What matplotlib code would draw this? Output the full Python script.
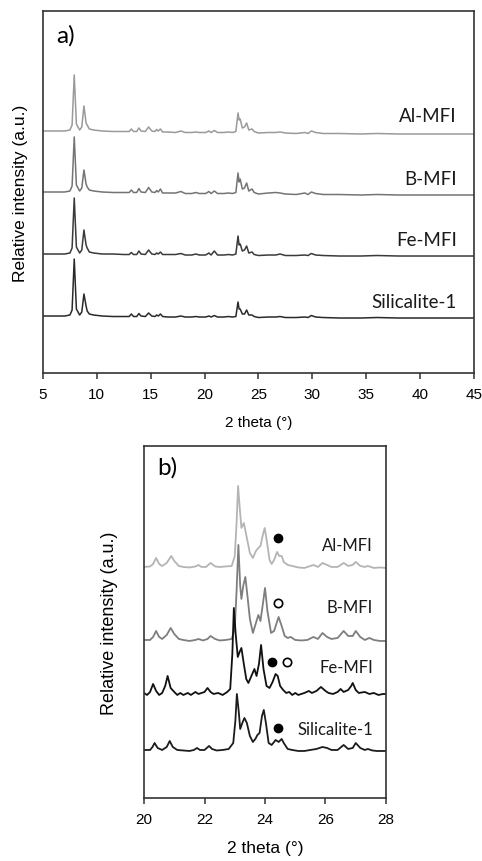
import matplotlib
matplotlib.use('Agg')
import matplotlib.pyplot as plt

# ---- panel a) : full range 5-45 deg (heights above each baseline) ----
x_full = [5.0, 6.0, 7.0, 7.5, 7.7, 7.9, 8.1, 8.4, 8.6, 8.8, 9.0, 9.1, 9.3, 9.7, 10.5,
          11.5, 12.5, 13.0, 13.2, 13.4, 13.7, 13.9, 14.1, 14.5, 14.8, 15.1, 15.4, 15.55,
          15.7, 15.9, 16.1, 16.6, 17.3, 17.8, 18.2, 18.8, 19.2, 19.5, 20.1, 20.4, 20.6,
          20.9, 21.2, 21.8, 22.2, 22.6, 22.9, 23.1, 23.2, 23.3, 23.5, 23.7, 23.9, 24.1,
          24.4, 24.6, 25.0, 25.9, 26.6, 27.0, 27.5, 28.5, 29.3, 29.6, 29.9, 30.3, 31.0,
          32.5, 34.5, 36.0, 38.0, 40.0, 42.0, 45.0]
al_full = [3, 3, 3, 4, 9, 59, 10, 4, 7, 28, 11, 9, 5, 4, 3,
           2.5, 2.5, 2.5, 5, 2.5, 2.5, 6, 3, 2.5, 7, 3, 2.5, 4.5,
           3, 5, 2, 2, 1.5, 3, 1.5, 1.5, 2, 1.5, 1.5, 3, 1.5,
           3.5, 1.5, 1.5, 2, 1.5, 2.5, 21, 14, 15, 6, 7, 11, 4,
           5, 2.5, 1, 1.5, 1.5, 2, 1, 0.5, 1.5, 0.5, 3, 1.5, 0.5,
           0.5, 0, 0.5, 0, 0, 0, 0]
b_full = [3, 3, 3, 4, 9, 58, 10, 4, 7, 25, 11, 8, 5, 4, 3,
          2.5, 2.5, 2.5, 5, 2.5, 2.5, 6.5, 3, 2.5, 7.5, 3, 2.5, 4.5,
          3, 6, 2, 2, 2, 3.5, 1.5, 1.5, 2.5, 1.5, 1.5, 3.5, 1.5,
          4, 1.5, 1.5, 2, 1.5, 2.5, 22, 13, 16, 6, 7, 12, 4,
          6, 2.5, 1, 2, 2.5, 2, 1, 0.5, 2, 0.5, 3, 1.5, 0.5,
          0.5, 0, 0.5, 0, 0, 0, 0]
fe_full = [2, 2, 2, 3, 8, 58, 9, 3, 6, 26, 11, 8, 4, 3, 2,
           2, 1.5, 1.5, 3.5, 1.5, 1.5, 5, 2, 1.5, 6, 2, 1.5, 3,
           2, 4, 1.5, 1.5, 1.5, 2.5, 1, 1, 2, 1, 1, 3, 1,
           5, 1, 1, 1.5, 1, 2, 20, 11, 12, 5, 6, 10, 3,
           4, 1.5, 0.5, 1, 1, 2, 0.5, 0.5, 1, 0.5, 2.5, 1, 0.5,
           0, 0, 0.5, 0, 0, 0, 0]
si_full = [2, 2, 2, 3, 8, 59, 9, 3, 6, 24, 12, 7, 4, 3, 2,
           1.5, 1.5, 1.5, 4, 1.5, 1.5, 4.5, 2, 1.5, 5, 2, 1.5, 3,
           2, 4, 1.5, 1, 1, 2, 1, 1, 1.5, 1, 1, 2, 1,
           2.5, 1, 1, 1.5, 1, 1.5, 16, 9, 9, 4, 4, 8, 3,
           3, 1.5, 0.5, 1, 1, 1.5, 0.5, 0.5, 1, 0.5, 2.5, 1, 0.5,
           0, 0, 0.5, 0, 0, 0, 0]

# ---- panel b) : zoom 20-28 deg ----
x_al = [20.0, 20.2, 20.3, 20.4, 20.5, 20.6, 20.75, 20.9, 21.0, 21.15, 21.3, 21.5, 21.7,
        21.8, 21.9, 22.05, 22.2, 22.35, 22.5, 22.7, 22.9, 23.0, 23.06, 23.11, 23.17, 23.22,
        23.3, 23.4, 23.5, 23.6, 23.7, 23.78, 23.85, 23.92, 23.99, 24.07, 24.15, 24.22, 24.3,
        24.4, 24.47, 24.55, 24.62, 24.75, 24.9, 25.1, 25.3, 25.5, 25.6, 25.75, 25.9, 26.05,
        26.2, 26.4, 26.6, 26.75, 26.9, 27.0, 27.15, 27.3, 27.4, 27.6, 27.8, 28.0]
y_al = [1, 1.5, 4, 10, 4, 2, 5, 12, 7, 2, 1, 0.5, 1.5,
        3, 1, 1, 5, 1.5, 1, 1.5, 2, 12, 45, 82, 58, 40,
        45, 30, 15, 10, 17, 20, 22, 32, 40, 25, 8, 4, 8,
        16, 12, 12, 6, 3, 2, 0.5, 0, 2, 3, 1, 5, 3,
        1, 1, 5, 2, 3, 6, 2, 1, 2, 0, 0.5, 0]
x_b = [20.0, 20.2, 20.3, 20.4, 20.5, 20.6, 20.75, 20.88, 21.0, 21.15, 21.3, 21.5, 21.7,
       21.8, 21.95, 22.1, 22.2, 22.35, 22.5, 22.7, 22.9, 23.0, 23.06, 23.12, 23.18, 23.22,
       23.28, 23.35, 23.42, 23.5, 23.6, 23.7, 23.78, 23.85, 23.92, 24.0, 24.08, 24.2, 24.3,
       24.45, 24.55, 24.65, 24.75, 24.85, 25.0, 25.2, 25.4, 25.6, 25.75, 25.9, 26.05, 26.2,
       26.4, 26.6, 26.75, 26.9, 27.0, 27.15, 27.3, 27.45, 27.6, 27.8, 28.0]
y_b = [1, 1, 4, 10, 4, 2, 6, 13, 7, 2, 1, 0, 1,
       2, 0.5, 2, 5, 2, 0.5, 1, 2, 12, 50, 96, 55, 42,
       55, 64, 45, 22, 8, 18, 26, 20, 35, 53, 30, 8, 10,
       24, 15, 5, 3, 4, 1, 0.5, 1, 4, 2, 8, 4, 2,
       3, 10, 5, 5, 10, 4, 1, 3, 1, 0, 0]
x_fe = [20.0, 20.1, 20.2, 20.3, 20.4, 20.5, 20.6, 20.7, 20.78, 20.88, 21.0, 21.1, 21.2,
        21.3, 21.45, 21.55, 21.7, 21.8, 21.9, 22.0, 22.1, 22.2, 22.3, 22.45, 22.6, 22.75,
        22.85, 22.92, 22.97, 23.03, 23.1, 23.16, 23.22, 23.3, 23.38, 23.45, 23.55, 23.65,
        23.72, 23.8, 23.87, 23.95, 24.05, 24.15, 24.25, 24.35, 24.42, 24.5, 24.6, 24.7,
        24.8, 24.9, 25.0, 25.1, 25.3, 25.45, 25.55, 25.7, 25.85, 26.0, 26.1, 26.25, 26.4,
        26.5, 26.6, 26.75, 26.85, 26.9, 27.0, 27.1, 27.3, 27.45, 27.6, 27.75, 27.9, 28.0]
y_fe = [1, -1, 2, 10, 3, -1, 1, 8, 18, 6, 2, -1, 1,
        -1, 1, -1, 2, 0, 1, 2, 6, 2, 0, 1, -1, 2,
        5, 40, 86, 60, 37, 42, 46, 30, 15, 11, 18, 25,
        18, 30, 49, 25, 8, 6, 12, 20, 18, 8, 4, 1,
        2, -1, 1, -1, 1, 3, 1, 3, 7, 3, 1, 0, 2,
        5, 2, 4, 8, 11, 4, 1, 2, 0, 1, -1, 0, 0]
x_si = [20.0, 20.2, 20.28, 20.35, 20.45, 20.6, 20.75, 20.85, 20.95, 21.1, 21.3, 21.5,
        21.65, 21.75, 21.85, 22.0, 22.15, 22.25, 22.4, 22.6, 22.8, 22.95, 23.02, 23.07,
        23.13, 23.18, 23.25, 23.32, 23.4, 23.5, 23.6, 23.68, 23.75, 23.82, 23.9, 23.96,
        24.03, 24.12, 24.22, 24.3, 24.35, 24.45, 24.55, 24.62, 24.75, 24.9, 25.1, 25.3,
        25.5, 25.7, 25.9, 26.05, 26.2, 26.4, 26.6, 26.75, 26.9, 27.0, 27.15, 27.3, 27.4,
        27.55, 27.7, 28.0]
y_si = [1, 1, 4, 8, 3, 1, 4, 10, 4, 1, 0.5, 0,
        1, 3, 1, 1, 5, 2, 0.5, 1, 2, 8, 30, 57,
        40, 22, 28, 33, 28, 15, 9, 12, 16, 18, 35, 41,
        28, 8, 6, 9, 11, 9, 12, 8, 2, 1, 0, 0,
        1, 2, 4, 3, 1, 1, 6, 2, 3, 8, 3, 1, 2,
        0.5, 0, 0]

names = ['Al-MFI', 'B-MFI', 'Fe-MFI', 'Silicalite-1']
# filled (•) and open (o) circle markers next to the 24.4 deg reflection
filled_x = [24.43, None, 24.24, 24.43]
open_x = [None, 24.43, 24.73, None]

colors_a = ['#9a9a9a', '#747474', '#3a3a3a', '#2a2a2a']
colors_b = ['#b4b4b4', '#7e7e7e', '#111111', '#1c1c1c']
offsets_a = [239, 178, 117, 55]
offsets_b = [230, 157, 104, 47]
label_y_a = [257, 195, 134, 72]
label_y_b = [253, 191, 131, 69]
mark_y_b = [260, 195, 136, 70]

tick_font = 'Liberation Sans'
label_font = 'Lato'

fig = plt.figure(figsize=(4.82, 8.62), dpi=100)

# panel a)
ax1 = fig.add_axes([0.0892, 0.5661, 0.8942, 0.4200])
series_a = [al_full, b_full, fe_full, si_full]
for ys, off, c in zip(series_a, offsets_a, colors_a):
    ax1.plot(x_full, [v + off for v in ys], color=c, lw=1.1)
for name, ly in zip(names, label_y_a):
    ax1.text(43.4, ly, name, ha='right', va='center', fontsize=13.5,
             family=label_font, color='#1a1a1a')
ax1.text(0.03, 0.965, 'a)', transform=ax1.transAxes, fontsize=17.5,
         family=label_font, va='top', ha='left')
ax1.set_xlim(5, 45)
ax1.set_ylim(0, 362)
ax1.set_xticks(range(5, 46, 5))
ax1.set_yticks([])
ax1.set_xlabel('2 theta (°)', fontsize=11, family=tick_font, labelpad=10)
ax1.set_ylabel('Relative intensity (a.u.)', fontsize=12.5, family=tick_font, labelpad=11)

# panel b)
ax2 = fig.add_axes([0.2988, 0.0731, 0.5020, 0.4084])
series_b = [(x_al, y_al), (x_b, y_b), (x_fe, y_fe), (x_si, y_si)]
for (xs, ys), off, c in zip(series_b, offsets_b, colors_b):
    ax2.plot(xs, [v + off for v in ys], color=c, lw=1.3)
for name, ly in zip(names, label_y_b):
    ax2.text(27.57, ly, name, ha='right', va='center', fontsize=12,
             family=label_font, color='#1a1a1a')
for fx, ox, my in zip(filled_x, open_x, mark_y_b):
    if fx is not None:
        ax2.plot([fx], [my], 'o', ms=6, color='black')
    if ox is not None:
        ax2.plot([ox], [my], 'o', ms=6, mfc='white', mec='black', mew=1.2)
ax2.text(0.055, 0.97, 'b)', transform=ax2.transAxes, fontsize=17.5,
         family=label_font, va='top', ha='left')
ax2.set_xlim(20, 28)
ax2.set_ylim(0, 352)
ax2.set_xticks(range(20, 29, 2))
ax2.set_yticks([])
ax2.set_xlabel('2 theta (°)', fontsize=12.5, family=tick_font, labelpad=10)
ax2.set_ylabel('Relative intensity (a.u.)', fontsize=13, family=tick_font, labelpad=19)

for ax in (ax1, ax2):
    for s in ax.spines.values():
        s.set_color('#333333')
        s.set_linewidth(1.2)
    ax.tick_params(axis='x', direction='out', length=4, width=1.1, color='#333333',
                   labelsize=11, pad=6)
    for lab in ax.get_xticklabels():
        lab.set_family(tick_font)

fig.savefig('out.png', dpi=100)
